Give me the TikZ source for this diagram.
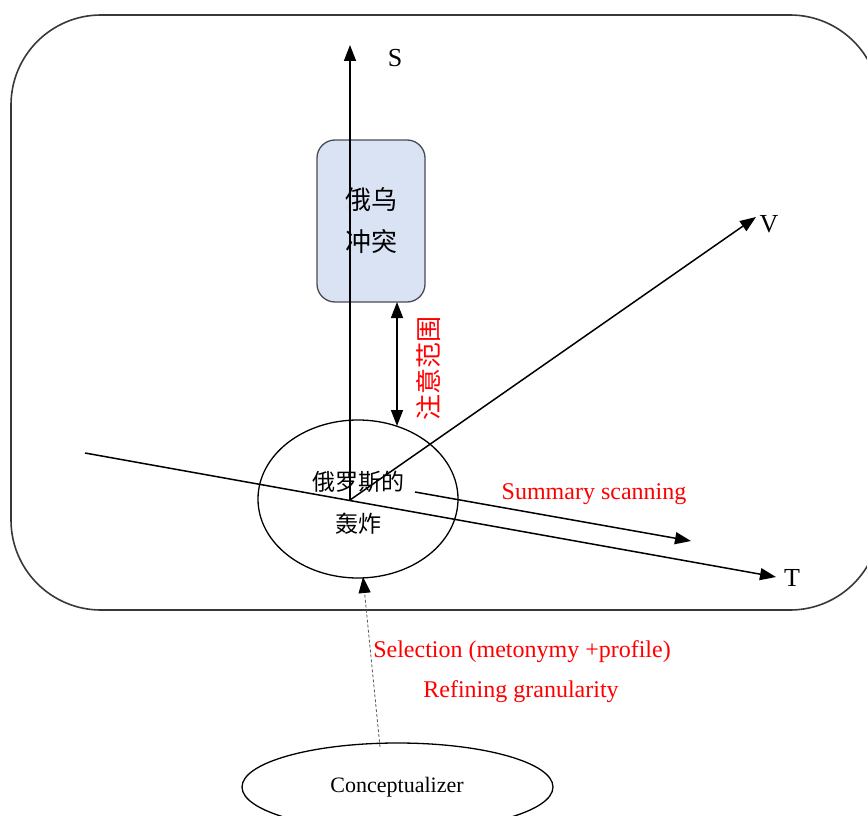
\documentclass[tikz,border=0pt]{standalone}
\usepackage{fontspec}
\setmainfont{Liberation Serif}
\newfontfamily\cjk{Noto Sans CJK SC}
\usetikzlibrary{shapes.geometric,arrows.meta}
\definecolor{boxfill}{HTML}{DAE3F3}
\definecolor{boxline}{HTML}{4A4A55}
\definecolor{frameline}{HTML}{383838}
\tikzset{
  tip/.style={},
  ax/.style={line width=1.5pt,-{Triangle[length=16pt,width=12pt]}},
  dax/.style={line width=1.5pt,{Triangle[length=16pt,width=12pt]}-{Triangle[length=16pt,width=12pt]}},
  dashax/.style={draw=gray!70!black,line width=0.8pt,dash pattern=on 3pt off 2pt,-{Triangle[length=16pt,width=12pt,color=black]}},
  rbox/.style={draw=boxline,fill=boxfill,line width=1.3pt,rounded corners=18pt,minimum width=108pt,minimum height=162pt,inner sep=0pt,align=center},
  ell/.style={draw=black,ellipse,line width=1.3pt,inner sep=0pt,align=center},
  lab/.style={font=\fontsize{26}{30}\selectfont},
  red lab/.style={text=red,font=\fontsize{24}{28}\selectfont},
}
\begin{document}
\begin{tikzpicture}[x=1pt,y=-1pt]
\useasboundingbox (0,0) rectangle (867,816);
\clip (0,0) rectangle (867,816);
% frame
\draw[frameline,line width=1.6pt,rounded corners=90pt] (11,15) rectangle (880,610);
% box
\node[rbox,font=\cjk\fontsize{26}{42}\selectfont] (box) at (371,221) {俄乌\\冲突};
% event ellipse
\node[ell,minimum width=200pt,minimum height=158pt] (ev) at (358,499) {};
\node[font=\cjk\fontsize{23}{42}\selectfont,align=center] (evt) at (358,503) {俄罗斯的\\轰炸};
% conceptualizer
\node[ell,minimum width=311pt,minimum height=88pt] (con) at (397.5,787) {};
\node[font=\fontsize{22}{26}\selectfont] (cont) at (397,787) {Conceptualizer};
% coordinates
\coordinate (O) at (350,500);
\coordinate (Stop) at (350,45);
\coordinate (Vend) at (756,217);
\coordinate (Tstart) at (85,453);
\coordinate (Tend) at (776,577);
\coordinate (ss1) at (415,492);
\coordinate (ss2) at (691,541);
\coordinate (att1) at (397,302);
\coordinate (att2) at (397,426);
\coordinate (cs) at (380,747);
\coordinate (ce) at (363,577);
% axes
\draw[ax] (O) -- (Stop);
\draw[ax] (O) -- (Vend);
\draw[ax] (Tstart) -- (Tend);
\draw[ax] (ss1) -- (ss2);
\draw[dax] (att1) -- (att2);
\draw[dashax] (cs) -- (ce);
% labels
\node[lab] (Sl) at (395,58) {S};
\node[lab] (Vl) at (769,224) {V};
\node[lab] (Tl) at (792,578) {T};
\node[red lab,font=\cjk\fontsize{26}{30}\selectfont,rotate=90] (attl) at (428,368) {注意范围};
\node[red lab] (ssl) at (594,494) {Summary scanning};
\node[red lab] (sel) at (522,652) {Selection (metonymy +profile)};
\node[red lab] (ref) at (521,692) {Refining granularity};
\end{tikzpicture}
\end{document}
